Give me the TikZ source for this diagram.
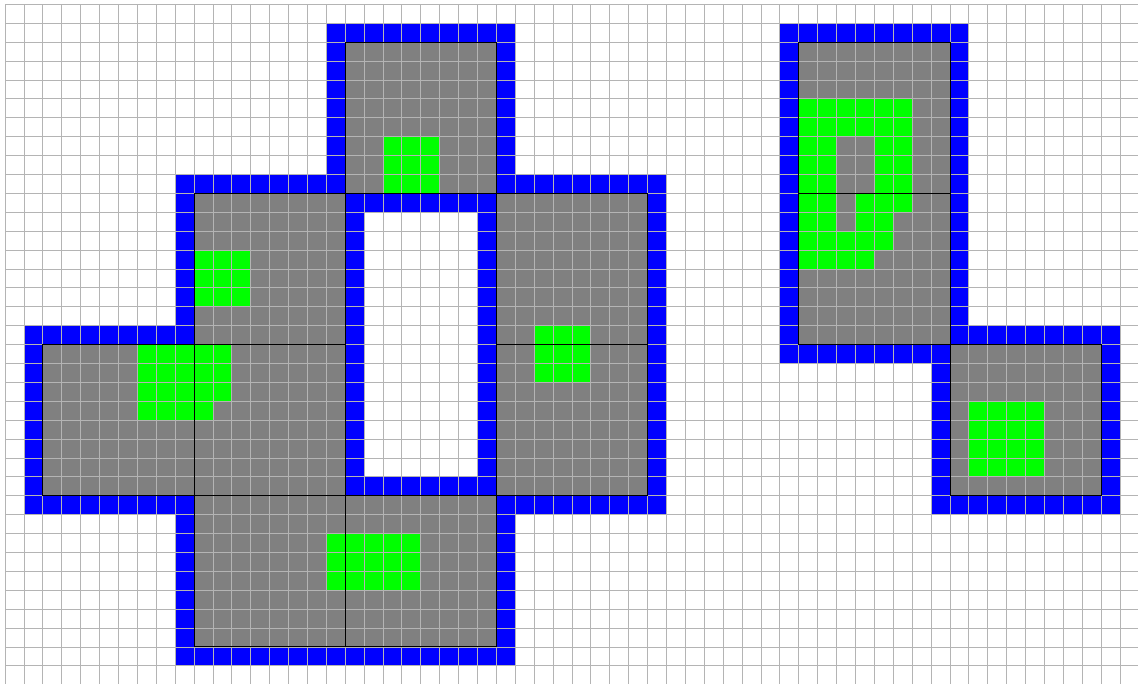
\documentclass[tikz,border=0pt]{standalone}
\usepackage{xcolor}
\usepackage{tikz}
\usetikzlibrary{positioning, calc}

\definecolor{wallblue}{RGB}{0,0,255}
\definecolor{roomgray}{RGB}{128,128,128}
\definecolor{blobgreen}{RGB}{0,255,0}
\definecolor{gridgray}{RGB}{180,180,180}

\begin{document}
\begin{tikzpicture}[
  x=0.5cm, y=-0.5cm,
  wall/.style={fill=wallblue},
  room/.style={fill=roomgray},
  blob/.style={fill=blobgreen},
  gridline/.style={draw=gridgray, line width=0.6pt},
  roomedge/.style={draw=black, line width=0.7pt}
]

\useasboundingbox (-0.265,-0.23) rectangle (59.95,35.96);
\clip (-0.265,-0.23) rectangle (59.95,35.96);

%% --- Walls: one cell round every room ---
\foreach \c/\r in {18/2, 10/10, 26/10, 2/18, 10/18, 26/18, 10/26, 18/26,
                   42/2, 42/10, 50/18}
  \fill[wall] (\c-1,\r-1) rectangle (\c+9,\r+9);

%% --- Rooms (8x8 cells) ---
\foreach \c/\r in {18/2, 10/10, 26/10, 2/18, 10/18, 26/18, 10/26, 18/26,
                   42/2, 42/10, 50/18}
  \fill[room] (\c,\r) rectangle (\c+8,\r+8);

%% --- Green blobs ---
\foreach \a/\b/\c/\d in {20/7/23/10, 10/13/13/16, 7/18/12/21, 7/21/11/22,
                         28/17/31/20, 17/28/22/31,
                         42/5/48/7, 42/7/44/14, 46/7/48/10, 45/10/48/11,
                         45/11/47/12, 44/12/47/13, 44/13/46/14, 51/21/55/25}
  \fill[blob] (\a,\b) rectangle (\c,\d);

%% --- Grid ---
\foreach \i in {0,...,60}
  \draw[gridline] (\i,0) -- (\i,36);
\foreach \j in {0,...,36}
  \draw[gridline] (0,\j) -- (60,\j);

%% --- Room outlines ---
\foreach \c/\r in {18/2, 10/10, 26/10, 2/18, 10/18, 26/18, 10/26, 18/26,
                   42/2, 42/10, 50/18}
  \draw[roomedge] (\c,\r) rectangle (\c+8,\r+8);

\end{tikzpicture}
\end{document}
